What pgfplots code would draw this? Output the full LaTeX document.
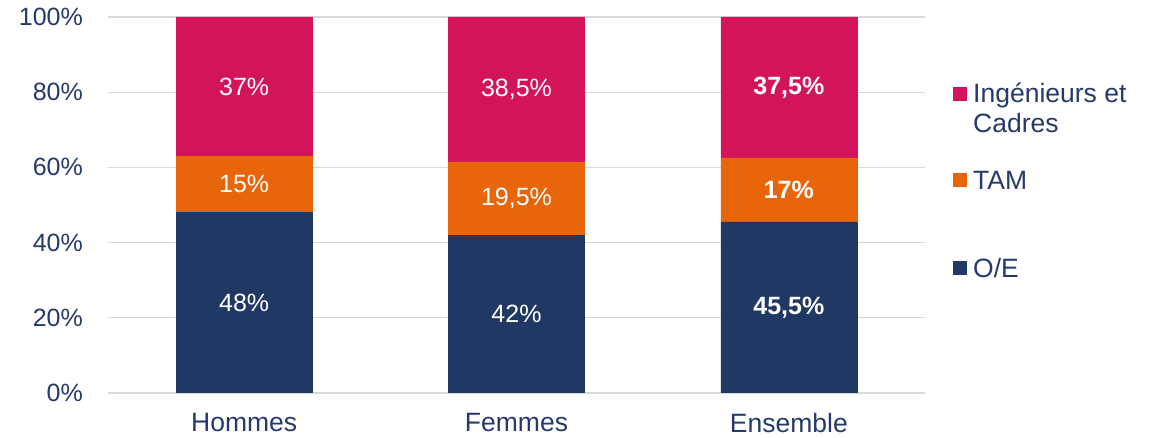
\documentclass[border=0pt]{standalone}
\usepackage{pgfplots}
\pgfplotsset{compat=1.18}
\usepackage{fontspec}
\setmainfont{Liberation Sans}
\definecolor{barnavy}{HTML}{203864}
\definecolor{txt}{HTML}{25396B}
\definecolor{barrose}{HTML}{D4145A}
\definecolor{barorange}{HTML}{E8650A}
\definecolor{gridc}{HTML}{D9D9D9}
\newcommand{\lbl}{\fontsize{25}{30}\selectfont}
\newcommand{\lblbig}{\fontsize{26.5}{30}\selectfont}
\begin{document}
\begin{tikzpicture}
\begin{axis}[
  name=ax,
  ybar stacked,
  scale only axis,
  width=817pt, height=376pt,
  xmin=-0.5, xmax=2.5,
  ymin=0, ymax=100,
  enlarge y limits=false,
  bar width=136pt,
  xtick={0,1,2},
  xticklabels={Hommes,Femmes,Ensemble},
  ytick={0,20,40,60,80,100},
  yticklabels={0\%,20\%,40\%,60\%,80\%,100\%},
  axis line style={draw=none},
  major tick length=0pt,
  ymajorgrids,
  grid style={color=gridc, line width=1.3pt},
  every tick label/.append style={font=\lbl, text=txt, inner sep=0pt},
  yticklabel style={xshift=-25pt},
  xticklabel style={anchor=north, yshift=-20pt, font=\lblbig},
  /pgf/number format/use comma,
  /pgf/number format/fixed,
  /pgf/number format/precision=1,
  /pgf/number format/assume math mode=true,
  point meta=rawy,
  visualization depends on={x \as \xv},
  % stacked bars: labels already sit at mid-segment
  nodes near coords={\ifdim\xv pt>1.5pt\bfseries\fi\pgfmathprintnumber{\pgfplotspointmeta}\%},
  every node near coord/.append style={anchor=center, text=white, font=\lbl, inner sep=0pt},
]
\addplot[fill=barnavy, draw=barnavy] coordinates {(0,48) (1,42) (2,45.5)};
\addplot[fill=barorange, draw=barorange] coordinates {(0,15) (1,19.5) (2,17)};
\addplot[fill=barrose, draw=barrose] coordinates {(0,37) (1,38.5) (2,37.5)};
\end{axis}
% legend
\fill[barrose] ([xshift=28pt, yshift=292pt]ax.south east) rectangle ++(14pt,14pt);
\fill[barorange] ([xshift=28pt, yshift=205.5pt]ax.south east) rectangle ++(14pt,14pt);
\fill[barnavy] ([xshift=28pt, yshift=117.5pt]ax.south east) rectangle ++(14pt,14pt);
\node[anchor=west, inner sep=0pt, align=left, font=\lblbig, text=txt] at ([xshift=48pt, yshift=285pt]ax.south east) {Ingénieurs et\\Cadres};
\node[anchor=west, inner sep=0pt, font=\lblbig, text=txt] at ([xshift=48pt, yshift=213pt]ax.south east) {TAM};
\node[anchor=west, inner sep=0pt, font=\lblbig, text=txt] at ([xshift=48pt, yshift=125pt]ax.south east) {O/E};
\pgfresetboundingbox
\useasboundingbox ([xshift=-108pt, yshift=-45pt]ax.south west) rectangle ([xshift=228pt, yshift=17pt]ax.north east);
\end{tikzpicture}
\end{document}
